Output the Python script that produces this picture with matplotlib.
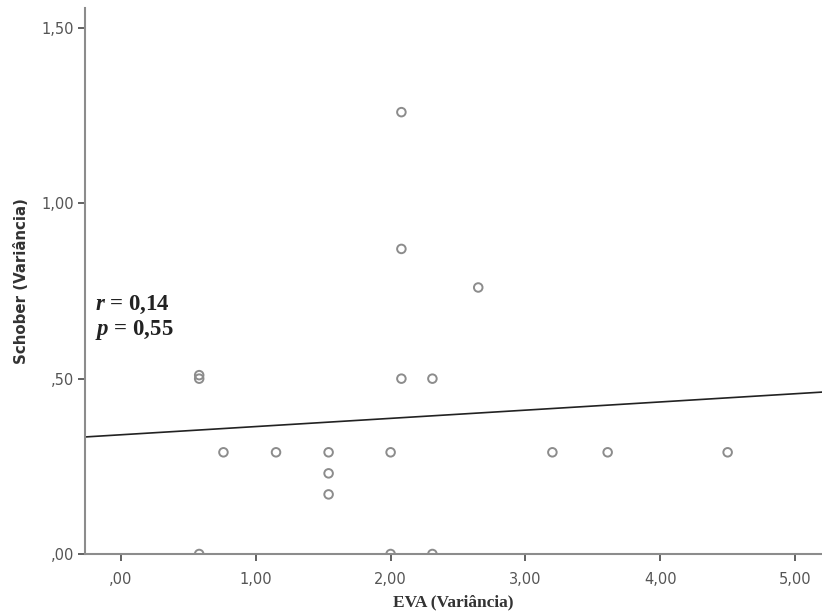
import matplotlib
matplotlib.use('Agg')
import numpy as np
import matplotlib.pyplot as plt

plt.rcParams['mathtext.fontset'] = 'custom'
plt.rcParams['mathtext.it'] = 'Liberation Serif:italic:bold'
plt.rcParams['mathtext.rm'] = 'Liberation Serif:bold'

# EVA (variance) vs Schober (variance)
eva = [0.58, 0.58, 0.58, 0.76, 1.15, 1.54, 1.54, 1.54, 2.00, 2.00,
       2.08, 2.08, 2.08, 2.31, 2.31, 2.65, 3.20, 3.61, 4.50]
schober = [0.51, 0.50, 0.00, 0.29, 0.29, 0.29, 0.23, 0.17, 0.29, 0.00,
           1.26, 0.87, 0.50, 0.50, 0.00, 0.76, 0.29, 0.29, 0.29]

# fit line
fit_intercept = 0.340
fit_slope = 0.0234

xticks = [0, 1, 2, 3, 4, 5]
xticklabels = [',00', '1,00', '2,00', '3,00', '4,00', '5,00']
yticks = [0, 0.5, 1.0, 1.5]
yticklabels = [',00', ',50', '1,00', '1,50']

fig = plt.figure(figsize=(8.22, 6.14), dpi=100)
ax = fig.add_axes([85/822, 1 - 554/614, 1 - 85/822, (554 - 8)/614])

xmin, xmax = -0.267, 5.2
ymin, ymax = 0.0, 1.557

ax.scatter(eva, schober, s=38, facecolors='none', edgecolors='#8c8c8c',
           linewidths=1.4, zorder=3)

xl = np.array([xmin, xmax])
ax.plot(xl, fit_intercept + fit_slope * xl, color='#222222', lw=1.2, zorder=2)

ax.set_xlim(xmin, xmax)
ax.set_ylim(ymin, ymax)
ax.set_xticks(xticks)
ax.set_xticklabels(xticklabels)
ax.set_yticks(yticks)
ax.set_yticklabels(yticklabels)

for s in ['top', 'right']:
    ax.spines[s].set_visible(False)
for s in ['left', 'bottom']:
    ax.spines[s].set_color('#8c8c8c')
    ax.spines[s].set_linewidth(1.5)
    ax.spines[s].set_zorder(4)

ax.tick_params(axis='both', direction='out', length=5, width=1.3,
               colors='#555555', labelsize=10.5, pad=3)
ax.tick_params(axis='x', pad=8)

ax.set_xlabel('EVA (Variância)', fontfamily='Liberation Serif',
              fontweight='bold', fontsize=12.5, color='#333333')
ax.xaxis.set_label_coords(0.5, -0.074)
ax.set_ylabel('Schober (Variância)', fontfamily='DejaVu Sans',
              fontweight='bold', fontsize=10.8, color='#333333')
ax.yaxis.set_label_coords(-0.076, 0.5)

ax.text(-0.19, 0.71, r'$\it{r}$ = 0,14', fontfamily='Liberation Serif',
        fontweight='bold', fontsize=16.5, va='center', color='#222222')
ax.text(-0.19, 0.64, r'$\it{p}$ = 0,55', fontfamily='Liberation Serif',
        fontweight='bold', fontsize=16.5, va='center', color='#222222')

fig.savefig('out.png', dpi=100)
